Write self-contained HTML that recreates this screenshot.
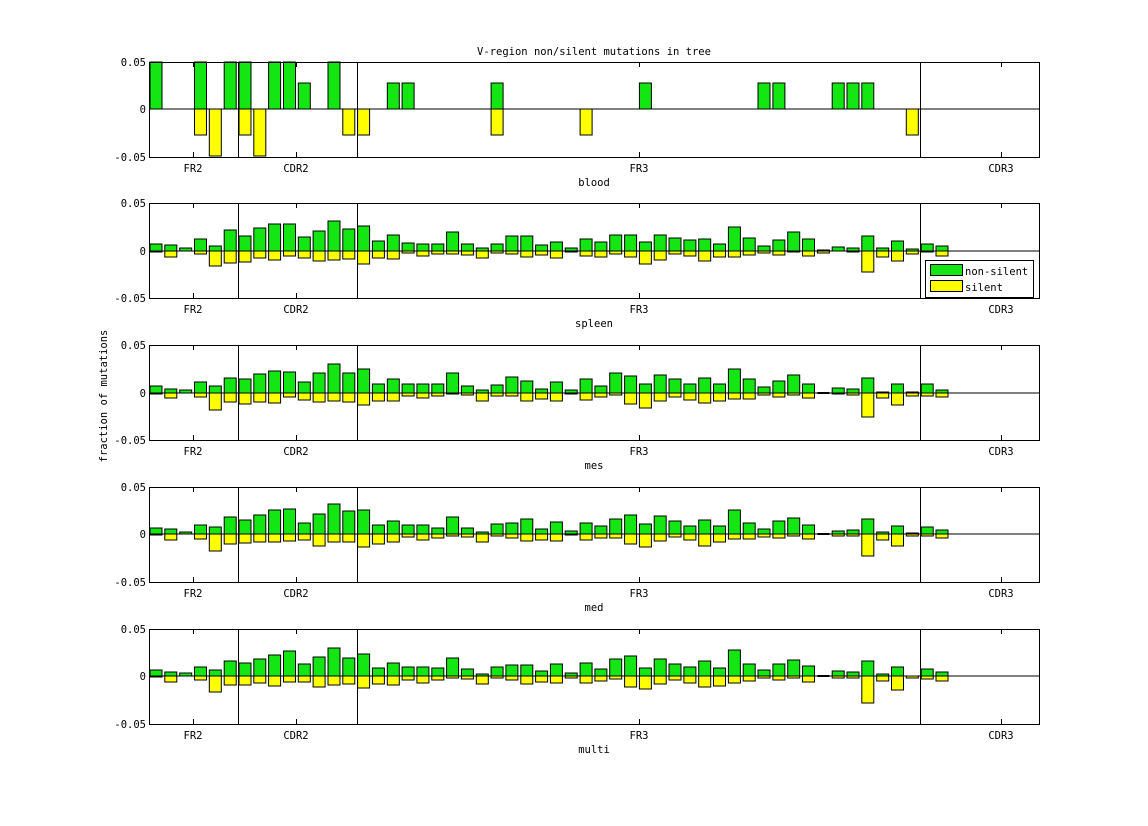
<!DOCTYPE html>
<html><head><meta charset="utf-8"><style>
html,body{margin:0;padding:0;background:#fff;}
svg text{font-family:"DejaVu Sans Mono","Liberation Mono",monospace;font-size:10.5px;fill:#000;}
</style></head><body>
<svg id="s" width="1148" height="821" xmlns="http://www.w3.org/2000/svg">
<rect width="1148" height="821" fill="#fff"/>
<text x="594" y="55" text-anchor="middle">V-region non/silent mutations in tree</text>
<text transform="translate(107,396) rotate(-90)" text-anchor="middle">fraction of mutations</text>
</svg>
<script>
var S=document.getElementById('s'),NS='http://www.w3.org/2000/svg';
function el(t,a,txt){var e=document.createElementNS(NS,t);for(var k in a)e.setAttribute(k,a[k]);if(txt!=null)e.textContent=txt;S.appendChild(e);return e;}
var G='#14e614',Y='#ffff00';
var bg=[],by=[];for(var i=0;i<54;i++){bg.push(0);by.push(0);}
[0,3,5,6,8,9,12].forEach(function(i){bg[i]=47});
[10,16,17,23,33,41,42,46,47,48].forEach(function(i){bg[i]=26});
[3,6,13,14,23,29,51].forEach(function(i){by[i]=26});
[4,7].forEach(function(i){by[i]=47});
var sp=[[7,1],[6,6],[3,0],[12,3],[5,15],[21,12],[15,11],[23,7],[27,9],[27,5],[14,7],[20,10],[30,9],[22,8],[25,13],[10,7],[16,8],[8,2],[7,5],[7,3],[19,3],[7,4],[3,7],[7,2],[15,3],[15,6],[6,4],[9,7],[3,1],[12,5],[9,6],[16,3],[16,6],[9,13],[16,9],[13,3],[11,5],[12,10],[7,6],[24,6],[13,4],[5,2],[11,4],[19,1],[12,5],[1,2],[4,0],[3,1],[15,21],[3,6],[10,10],[2,3],[7,1],[5,5]];
var me=[[7,1],[4,5],[3,0],[11,4],[7,17],[15,9],[14,11],[19,9],[22,10],[21,4],[11,7],[20,9],[29,8],[20,9],[24,12],[9,8],[14,8],[9,3],[9,5],[9,3],[20,1],[7,2],[3,8],[8,3],[16,3],[12,8],[4,6],[11,8],[3,1],[14,7],[7,4],[20,2],[17,11],[9,15],[18,8],[14,4],[9,7],[15,10],[9,8],[24,6],[14,6],[6,2],[12,4],[18,2],[9,5],[0,0],[5,1],[4,2],[15,24],[1,5],[9,12],[1,3],[9,3],[3,4]];
var md=[[6,1],[5,6],[2,0],[9,5],[7,17],[17,10],[14,9],[19,8],[24,8],[25,7],[11,6],[20,12],[30,8],[23,8],[24,13],[9,10],[13,8],[9,3],[9,6],[6,4],[17,2],[6,3],[2,8],[10,2],[11,4],[15,7],[5,6],[12,7],[3,1],[11,6],[8,4],[15,4],[19,10],[10,13],[18,7],[13,3],[8,6],[14,12],[8,8],[24,5],[11,5],[5,3],[13,4],[16,2],[9,5],[0,0],[3,2],[4,2],[15,22],[2,6],[8,12],[1,2],[7,2],[4,4]];
var mu=[[6,1],[4,6],[3,0],[9,4],[6,16],[15,9],[13,9],[17,7],[21,10],[25,6],[12,6],[19,11],[28,9],[18,8],[22,12],[8,8],[13,9],[9,4],[9,7],[8,4],[18,2],[7,3],[2,8],[9,2],[11,4],[11,8],[5,6],[12,7],[3,2],[13,7],[7,5],[17,3],[20,11],[8,13],[17,8],[12,4],[9,7],[15,11],[8,10],[26,7],[12,5],[6,2],[12,4],[16,2],[10,6],[0,0],[5,2],[4,2],[15,27],[2,5],[9,14],[0,2],[7,3],[4,5]];
var panels=[
 {t:62,z:109,b:157,lab:'blood',d:bg.map(function(g,i){return [g,by[i]]}),n:52,blood:true},
 {t:203,z:251,b:298,lab:'spleen',d:sp,n:54},
 {t:345,z:393,b:440,lab:'mes',d:me,n:54},
 {t:487,z:534,b:582,lab:'med',d:md,n:54},
 {t:629,z:676,b:724,lab:'multi',d:mu,n:54}];
panels.forEach(function(p){
 var L=149,R=1039;
 for(var i=0;i<p.n;i++){
  var x=150+14.83*i,g=p.d[i][0],y=p.d[i][1];
  if(g>0)el('rect',{x:x.toFixed(1),y:p.z-g,width:12,height:g,fill:G,stroke:'#000','stroke-width':1});
  if(y>0)el('rect',{x:x.toFixed(1),y:p.z,width:12,height:y,fill:Y,stroke:'#000','stroke-width':1});
  if(!p.blood&&g==0&&y==0)el('rect',{x:x.toFixed(1),y:p.z-1,width:12,height:2,fill:'#000'});
 }
 el('line',{x1:L,y1:p.z,x2:R,y2:p.z,stroke:'#000','stroke-width':1});
 [238,357,920].forEach(function(x){el('line',{x1:x+.5,y1:p.t,x2:x+.5,y2:p.b,stroke:'#000','stroke-width':1});});
 el('rect',{x:L+.5,y:p.t+.5,width:R-L,height:p.b-p.t,fill:'none',stroke:'#000','stroke-width':1});
 [[193,'FR2'],[296,'CDR2'],[639,'FR3'],[1001,'CDR3']].forEach(function(k){
  el('line',{x1:k[0]+.5,y1:p.t,x2:k[0]+.5,y2:p.t+5,stroke:'#000'});
  el('line',{x1:k[0]+.5,y1:p.b,x2:k[0]+.5,y2:p.b-5,stroke:'#000'});
  el('text',{x:k[0],y:p.b+15,'text-anchor':'middle'},k[1]);
 });
 el('text',{x:146,y:p.t+4,'text-anchor':'end'},'0.05');
 el('text',{x:146,y:p.z+4,'text-anchor':'end'},'0');
 el('text',{x:146,y:p.b+4,'text-anchor':'end'},'-0.05');
 el('text',{x:594,y:p.b+29,'text-anchor':'middle'},p.lab);
});
el('rect',{x:925.5,y:260.5,width:108,height:37,fill:'#fff',stroke:'#000'});
el('rect',{x:930.5,y:264.5,width:32,height:11,fill:G,stroke:'#000'});
el('rect',{x:930.5,y:280.5,width:32,height:11,fill:Y,stroke:'#000'});
el('text',{x:965,y:275},'non-silent');
el('text',{x:965,y:291},'silent');
</script>
</body></html>
